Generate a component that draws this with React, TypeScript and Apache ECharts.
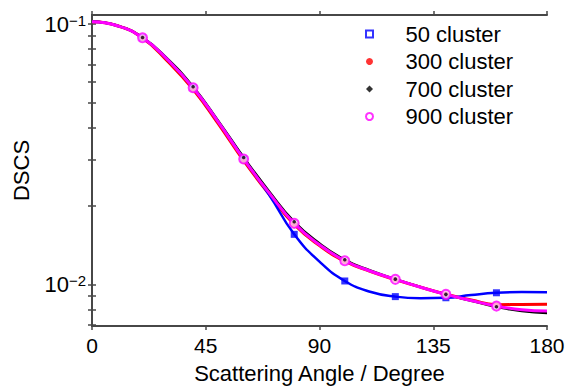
import React, { useEffect, useRef } from "react";
import * as echarts from "echarts";

const angles = [0, 10, 20, 30, 40, 50, 60, 70, 80, 90, 100, 110, 120, 130, 140, 150, 160, 170, 180];
const markerAngles = [20, 40, 60, 80, 100, 120, 140, 160];

const dscs50 = [0.10205, 0.09849, 0.08857, 0.07278, 0.05692, 0.04198, 0.0303, 0.02213, 0.01556, 0.01222, 0.0103, 0.00937, 0.00897, 0.00885, 0.00888, 0.0091, 0.00928, 0.00934, 0.00933];
const dscs300 = [0.10205, 0.09849, 0.08831, 0.07178, 0.0561, 0.0413, 0.02985, 0.02223, 0.01698, 0.01409, 0.01227, 0.01122, 0.01043, 0.00975, 0.00916, 0.00871, 0.00835, 0.00837, 0.00838];
const dscs700 = [0.10221, 0.09863, 0.0888, 0.07328, 0.05741, 0.04236, 0.03069, 0.0228, 0.01738, 0.01435, 0.01242, 0.0113, 0.01047, 0.00976, 0.00915, 0.00865, 0.0082, 0.00789, 0.00776];
const dscs900 = [0.10205, 0.09849, 0.08857, 0.07278, 0.05692, 0.04198, 0.0303, 0.02249, 0.01715, 0.01419, 0.01232, 0.01125, 0.01045, 0.00975, 0.00915, 0.00867, 0.00825, 0.00799, 0.00789];

const seriesNames = ["50 cluster", "300 cluster", "700 cluster", "900 cluster"];
const xTicks = [0, 45, 90, 135, 180];
const yLabelValues = [0.01, 0.1];
const yTickValues = [0.007, 0.008, 0.009, 0.01, 0.02, 0.03, 0.04, 0.05, 0.06, 0.07, 0.08, 0.09, 0.1];

const FONT = "Liberation Sans, Arial, sans-serif";
const AXIS_COLOR = "#474747";
const BLUE = "#0000ff";
const RED = "#ff0000";
const BLACK = "#000000";
const MAGENTA = "#ff00ff";

const SQUARE_ICON = "path://M0,0L10,0L10,10L0,10Z";
const DIAMOND_ICON = "path://M5,0L10,5L5,10L0,5Z";

function pairs(vals: number[]) {
  return angles.map((a, i) => [a, vals[i]]);
}
function markerPairs(vals: number[]) {
  return angles
    .map((a, i) => [a, vals[i]])
    .filter((p) => markerAngles.indexOf(p[0]) >= 0);
}

export default function App() {
  const ref = useRef<HTMLDivElement>(null);
  useEffect(() => {
    if (!ref.current) return;
    const chart = echarts.init(ref.current, null, { renderer: "svg" });
    const axisLineStyle = { color: AXIS_COLOR, width: 2 };
    const yBase = {
      type: "log" as const,
      logBase: 10,
      min: 0.006917,
      max: 0.10829,
      splitLine: { show: false },
      minorTick: { show: false },
      axisLine: { show: true, lineStyle: axisLineStyle },
      axisTick: { show: true, inside: false, length: 4, customValues: yTickValues, lineStyle: { color: AXIS_COLOR, width: 1.5 } },
    };
    const lineSeries = (name: string, vals: number[], color: string, width: number) => ({
      type: "line",
      name,
      data: pairs(vals),
      smooth: true,
      showSymbol: false,
      symbol: "none",
      lineStyle: { color, width },
      itemStyle: { color },
      silent: true,
    });
    const option: any = {
      animation: false,
      backgroundColor: "#ffffff",
      grid: { left: 92, right: 20, top: 15, bottom: 62, outerBoundsMode: "none", containLabel: false },
      legend: {
        orient: "vertical",
        left: 360,
        top: 18,
        itemWidth: 62,
        itemHeight: 7,
        itemGap: 5.5,
        symbolKeepAspect: true,
        textStyle: { fontFamily: FONT, fontSize: 22, lineHeight: 22, color: "#000" },
        data: [
          { name: seriesNames[0], icon: SQUARE_ICON, itemStyle: { color: "#ffffff", borderColor: BLUE, borderWidth: 2 } },
          { name: seriesNames[1], icon: "circle", itemStyle: { color: RED } },
          { name: seriesNames[2], icon: DIAMOND_ICON, itemStyle: { color: BLACK } },
          { name: seriesNames[3], icon: "circle", itemStyle: { color: "#ffffff", borderColor: MAGENTA, borderWidth: 2 } },
        ],
      },
      xAxis: [
        {
          type: "value",
          min: 0,
          max: 180,
          interval: 45,
          splitLine: { show: false },
          axisLine: { show: true, onZero: false, lineStyle: axisLineStyle },
          axisTick: { show: true, inside: false, length: 4, lineStyle: { color: AXIS_COLOR, width: 1.5 } },
          axisLabel: {
            margin: 9,
            fontFamily: FONT,
            fontSize: 21,
            color: "#000",
            customValues: xTicks,
          },
          name: "Scattering Angle / Degree",
          nameLocation: "middle",
          nameGap: 36,
          nameTextStyle: { fontFamily: FONT, fontSize: 22, color: "#000" },
        },
        {
          type: "value",
          position: "top",
          min: 0,
          max: 180,
          interval: 45,
          splitLine: { show: false },
          axisLine: { show: true, onZero: false, lineStyle: axisLineStyle },
          axisTick: { show: true, inside: false, length: 4, lineStyle: { color: AXIS_COLOR, width: 1.5 } },
          axisLabel: { show: false },
        },
      ],
      yAxis: [
        {
          ...yBase,
          position: "left",
          axisLabel: {
            customValues: yLabelValues,
            margin: 6,
            formatter: (v: number) => {
              const e = Math.round(Math.log10(v));
              return "{b|10}{s|\u2212" + Math.abs(e) + "}";
            },
            rich: {
              b: { fontFamily: FONT, fontSize: 22, color: "#000", lineHeight: 22, verticalAlign: "middle" },
              s: { fontFamily: FONT, fontSize: 15, color: "#000", lineHeight: 14, verticalAlign: "top" },
            },
          },
          name: "DSCS",
          nameLocation: "middle",
          nameGap: 60,
          nameTextStyle: { fontFamily: FONT, fontSize: 22, color: "#000" },
        },
        {
          ...yBase,
          position: "right",
          axisLabel: { show: false },
        },
      ],
      series: [
        lineSeries("700 line", dscs700, BLACK, 2.5),
        lineSeries("300 line", dscs300, RED, 3),
        lineSeries("50 line", dscs50, BLUE, 2.5),
        lineSeries("900 line", dscs900, MAGENTA, 3),
        {
          type: "scatter",
          name: seriesNames[0],
          data: markerPairs(dscs50),
          symbol: "rect",
          symbolSize: 7,
          itemStyle: { color: BLUE },
          z: 3,
        },
        {
          type: "scatter",
          name: seriesNames[1],
          data: markerPairs(dscs300),
          symbol: "circle",
          symbolSize: 6,
          itemStyle: { color: RED },
          z: 3,
        },
        {
          type: "scatter",
          name: seriesNames[3],
          data: markerPairs(dscs900),
          symbol: "circle",
          symbolSize: 9,
          itemStyle: { color: "#ffd2ff", borderColor: MAGENTA, borderWidth: 2 },
          z: 3,
        },
        {
          type: "scatter",
          name: seriesNames[2],
          data: markerPairs(dscs700),
          symbol: "circle",
          symbolSize: 3.5,
          itemStyle: { color: BLACK },
          z: 3,
        },
      ],
    };
    chart.setOption(option);
    return () => chart.dispose();
  }, []);
  return (
    <div
      ref={ref}
      style={{ position: "absolute", left: 0, top: 0, width: 567, height: 388, background: "#fff" }}
    />
  );
}
